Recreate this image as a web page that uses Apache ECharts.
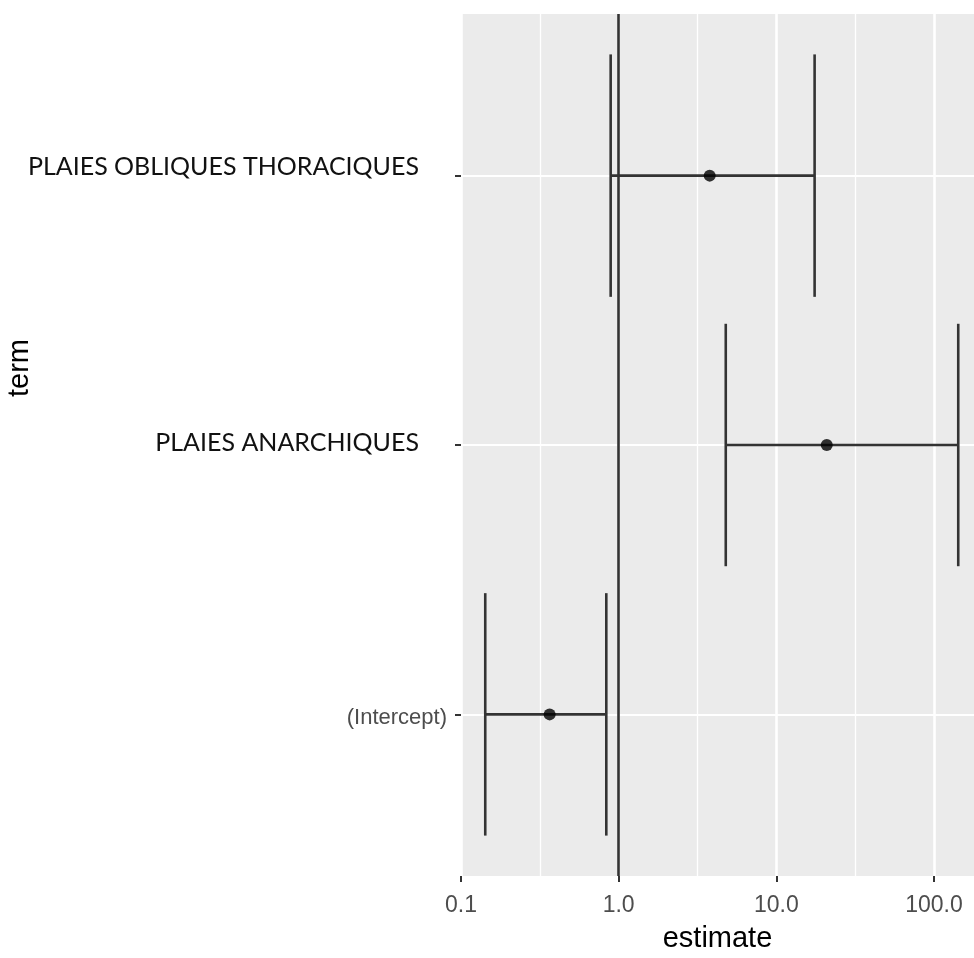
<!DOCTYPE html>
<html>
<head>
<meta charset="utf-8">
<script src="https://cdn.jsdelivr.net/npm/echarts@6/dist/echarts.min.js"></script>
<style>
html, body { margin: 0; padding: 0; background: #ffffff; }
#chart { width: 974px; height: 958px; }
</style>
</head>
<body>
<div id="chart"></div>
<script>
// ---- data ----
const terms = ['(Intercept)', 'PLAIES ANARCHIQUES', 'PLAIES OBLIQUES THORACIQUES'];
const estimates = [0.365, 20.9, 3.78];
const confLow = [0.1425, 4.78, 0.89];
const confHigh = [0.835, 142.6, 17.5];
const xTickValues = [0.1, 1, 10, 100];
const xTickLabels = ['0.1', '1.0', '10.0', '100.0'];
const referenceLine = [1];
const xRange = [0.1, 179.5];

// ---- build ----
const lg = Math.log10;
const yPos = terms.map((t, i) => i + 1);
const barData = terms.map((t, i) => [yPos[i], lg(confLow[i]), lg(confHigh[i])]);
const pointData = terms.map((t, i) => [lg(estimates[i]), yPos[i]]);
const xTickLogs = xTickValues.map(lg);

const chart = echarts.init(document.getElementById('chart'), null, { renderer: 'canvas' });

const lineColor = '#333333';

const option = {
  animation: false,
  backgroundColor: '#ffffff',
  grid: {
    left: 461, right: 0, top: 14, bottom: 80,
    show: true, backgroundColor: '#EBEBEB', borderWidth: 0
  },
  xAxis: {
    type: 'value',
    min: lg(xRange[0]),
    max: lg(xRange[1]),
    interval: 1,
    name: 'estimate',
    nameLocation: 'middle',
    nameGap: 48,
    nameTextStyle: { fontFamily: 'Liberation Sans', fontSize: 29, color: '#000000' },
    axisLine: { show: false, onZero: false },
    axisTick: {
      show: true, length: 6, customValues: xTickLogs,
      lineStyle: { color: lineColor, width: 2 }
    },
    axisLabel: {
      customValues: xTickLogs,
      margin: 18,
      fontFamily: 'Liberation Sans', fontSize: 23, color: '#4D4D4D',
      formatter: function (v) {
        for (let i = 0; i < xTickLogs.length; i++) {
          if (Math.abs(xTickLogs[i] - v) < 1e-6) return xTickLabels[i];
        }
        return '';
      }
    },
    splitLine: { show: true, lineStyle: { color: '#ffffff', width: 2.6 } },
    minorTick: { show: false, splitNumber: 2 },
    minorSplitLine: { show: true, lineStyle: { color: '#ffffff', width: 1.3 } }
  },
  yAxis: {
    type: 'value',
    min: 0.4,
    max: 3.6,
    axisLine: { show: false, onZero: false },
    axisTick: {
      show: true, length: 6, customValues: yPos,
      lineStyle: { color: lineColor, width: 2 }
    },
    axisLabel: {
      customValues: yPos,
      margin: 14,
      fontFamily: 'Liberation Sans', fontSize: 22, color: '#4D4D4D',
      formatter: function (v) {
        const i = Math.round(v) - 1;
        const t = terms[i] || '';
        if (i === 0) return '{b|' + t + '}';
        if (i === 1) return '{m|' + t + '}';
        return '{t|' + t + '}';
      },
      rich: {
        b: { fontFamily: 'Liberation Sans', fontSize: 22, color: '#4D4D4D', padding: [8, 0, 0, 0] },
        m: { fontFamily: 'Lato', fontSize: 25, color: '#111111', padding: [0, 28, 4, 0] },
        t: { fontFamily: 'Lato', fontSize: 25, color: '#111111', padding: [0, 28, 18, 0] }
      }
    },
    splitLine: { show: true, lineStyle: { color: '#ffffff', width: 2.2 } }
  },
  graphic: [{
    type: 'text',
    x: 20, y: 368,
    rotation: Math.PI / 2,
    style: {
      text: 'term', fontFamily: 'Liberation Sans', fontSize: 29, fill: '#000000',
      align: 'center', verticalAlign: 'middle'
    }
  }],
  series: [
    {
      type: 'custom',
      name: 'conf',
      data: barData,
      encode: { x: [1, 2], y: 0 },
      renderItem: function (params, api) {
        const y = api.value(0);
        const p1 = api.coord([api.value(1), y]);
        const p2 = api.coord([api.value(2), y]);
        const half = api.size([0, 0.45])[1];
        const style = { stroke: lineColor, lineWidth: 2.6, fill: null };
        return {
          type: 'group',
          children: [
            { type: 'line', shape: { x1: p1[0], y1: p1[1], x2: p2[0], y2: p2[1] }, style: style },
            { type: 'line', shape: { x1: p1[0], y1: p1[1] - half, x2: p1[0], y2: p1[1] + half }, style: style },
            { type: 'line', shape: { x1: p2[0], y1: p2[1] - half, x2: p2[0], y2: p2[1] + half }, style: style }
          ]
        };
      },
      z: 2
    },
    {
      type: 'scatter',
      name: 'estimate',
      data: pointData,
      symbol: 'circle',
      symbolSize: 12,
      itemStyle: { color: '#000000' },
      z: 3,
      markLine: {
        silent: true,
        symbol: ['none', 'none'],
        label: { show: false },
        lineStyle: { color: lineColor, width: 2.6, type: 'solid' },
        data: referenceLine.map(v => ({ xAxis: lg(v) }))
      }
    }
  ]
};

chart.setOption(option);
</script>
</body>
</html>
